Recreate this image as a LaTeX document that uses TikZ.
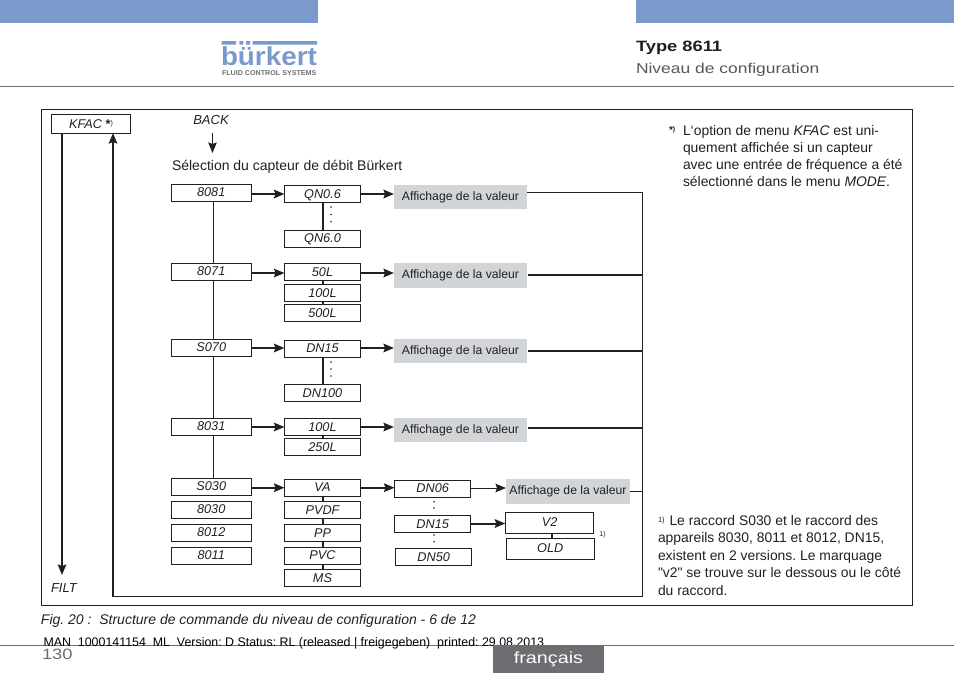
\documentclass[tikz,border=0pt]{standalone}
\usepackage{fontspec}
\setmainfont{Liberation Sans}
\newfontfamily\widefont[FakeStretch=1.22]{Liberation Sans}
\newfontfamily\plainfont{Liberation Sans}
\usetikzlibrary{arrows.meta}
\AtBeginDocument{\frenchspacing}
\definecolor{bkblue}{HTML}{7A9ACB}
\definecolor{bkgray}{HTML}{D2D5D8}
\definecolor{bkdark}{HTML}{6D6E71}
\definecolor{ink}{HTML}{231F20}
\tikzset{
  x=1pt,y=-1pt,
  every node/.style={inner sep=0pt,outer sep=0pt,text=ink},
  menubox/.style={draw=ink,line width=1pt,minimum width=#1,minimum height=17pt,font=\itshape\fontsize{12.7}{14}\selectfont,text depth=0pt,anchor=north west},
  menubox/.default=76pt,
  valbox/.style={fill=bkgray,minimum width=133pt,minimum height=24pt,anchor=north west,font=\fontsize{12.2}{14}\selectfont},
  thinl/.style={draw=ink,line width=1pt},
  thickl/.style={draw=ink,line width=2pt},
  arr/.style={thickl,-{Stealth[length=10.5pt,width=8.5pt,inset=1.5pt]}},
  arrthin/.style={thinl,-{Stealth[length=10.5pt,width=8.5pt,inset=1.5pt]}},
  lab/.style={font=\itshape\fontsize{13}{15}\selectfont},
  body/.style={anchor=base west,font=\fontsize{13.9}{15}\selectfont},
}
\begin{document}
\begin{tikzpicture}
\useasboundingbox (0,0) rectangle (954,673);
% header
\fill[bkblue] (0,0) rectangle (318,23);
\fill[bkblue] (636,0) rectangle (954,23);
\draw[bkdark,line width=1pt] (0,86) -- (954,86);
\fill[bkblue] (221.7,41) rectangle (236,44.5) (239.3,41) rectangle (243.3,44.5) (246,41) rectangle (250,44.5) (252.7,41) rectangle (317,44.5);
\node[anchor=base west,text=bkblue,font=\bfseries\fontsize{26}{28}\selectfont] (logo) at (221,65.5) {\scalebox{1.07}[1]{bürkert}};
\node[anchor=base west,text=bkdark,font=\bfseries\fontsize{7}{8}\selectfont] (logosub) at (222,75.7) {\scalebox{1.02}[1]{FLUID CONTROL SYSTEMS}};
\node[anchor=base west,font=\widefont\bfseries\fontsize{15}{17}\selectfont] (type) at (636,51) {Type 8611};
\node[anchor=base west,text=bkdark!70!ink,font=\widefont\fontsize{14.3}{16}\selectfont] (niv) at (636,73) {Niveau de configuration};
% frame
\draw[thinl] (41.5,109.5) rectangle (912.5,605.5);
% KFAC
\node[menubox=79pt,minimum height=18.5pt] (kfac) at (51.5,114.5) {KFAC {\upshape\bfseries*}\raisebox{3pt}{\upshape\fontsize{7}{8}\selectfont )}};
\coordinate (kfacL) at (62,133);
\coordinate (kfacR) at (113,133);
\coordinate (filtA) at (62,575);
\node[lab,anchor=base west] (filt) at (51,592) {FILT};
\draw[arr] (kfacL) -- (filtA);
\coordinate (loopA) at (113,596.5);
\coordinate (loopB) at (642.5,596.5);
\coordinate (loopC) at (642.5,192.5);
% BACK
\node[lab] (back) at (211,120) {BACK};
\coordinate (backA) at (212.5,133);
\coordinate (backB) at (212.5,153);
\draw[arrthin] (backA) -- (backB);
\node[body,font=\fontsize{14}{15}\selectfont] (sel) at (172,170.7) {Sélection du capteur de débit Bürkert};
% column 1
\foreach \n/\t/\y in {a/8081/184.5,b/8071/263.5,c/S070/339,d/8031/418,e/S030/478.3,f/8030/501.3,g/8012/524,h/8011/547}
  \node[menubox=79.5pt] (\n) at (171.5,\y) {\raisebox{1pt}{\t}};
% column 2
\foreach \n/\t/\y in {qa/QN0.6/185.5,qb/QN6.0/230,ra/50L/263.5,rb/100L/284.5,rc/500L/304.3,sa/DN15/340,sb/DN100/384.3,ta/100L/418.5,tb/250L/438.3,ua/VA/479,ub/PVDF/501.3,uc/PP/524.3,ud/PVC/547,ue/MS/569.7}
  \node[menubox=76pt] (\n) at (284.5,\y) {\t};
% column 3
\foreach \n/\t/\x/\y in {va/DN06/394.5/480,vb/DN15/394.5/515.7,vc/DN50/395.5/548.5}
  \node[menubox=76.3pt] (\n) at (\x,\y) {\t};
\node[menubox=88.5pt,minimum height=21pt] (wa) at (505.3,512.3) {\raisebox{2pt}{V2}};
\node[menubox=88pt,minimum height=20.7pt] (wb) at (506.3,538.3) {\raisebox{2pt}{OLD}};
\node[font=\fontsize{7}{8}\selectfont] (note) at (602.5,535) {1)};
% value boxes
\foreach \n/\y/\h in {pa/185/24,pb/263/25,pc/339/23.7,pd/418/23.7}
  \node[valbox,minimum height=\h pt] (\n) at (394,\y) {Affichage de la valeur};
\node[valbox,minimum width=124pt,minimum height=24.7pt] (pe) at (506,479) {Affichage de la valeur};
% connectors: return lines
\coordinate (pbr) at (528,274.5); \coordinate (pcr) at (528,351); \coordinate (pdr) at (528,428);
\draw[thinl] (pa.east |- loopC) -- (loopC) -- (loopB) -- (loopA);
\draw[thickl] (pbr) -- (pbr -| loopB);
\draw[thickl] (pcr) -- (pcr -| loopB);
\draw[thickl] (pdr) -- (pdr -| loopB);
\draw[thinl] (pe.east |- 0,491) -- (642.5,491);
\draw[arr] (loopA) -- (kfacR);
% trunk
\foreach \p/\q in {a/b,b/c,c/d,d/e}
  \draw[thinl] (\p.south -| 213.5,0) -- (\q.north -| 213.5,0);
% horizontals
\foreach \p/\q/\y in {a/qa/194,b/ra/273,c/sa/348,d/ta/427,e/ua/487.7,ua/va/487.7,vb/wa/523.5}
  \draw[arr] (\p.east |- 0,\y) -- (\q.west |- 0,\y);
\foreach \p/\q/\y in {qa/pa/194,ra/pb/273,sa/pc/348,ta/pd/427}
  \draw[arr] (\p.east |- 0,\y) -- (\q.west |- 0,\y);
\draw[arrthin] (va.east |- 0,488) -- (pe.west |- 0,488);
% verticals
\foreach \p/\q in {qa/qb,sa/sb,ra/rb,rb/rc,ta/tb,ua/ub,ub/uc,uc/ud,ud/ue}
  \draw[thickl] (\p.south) -- (\q.north);
\draw[thickl] (wa.south -| 552,0) -- (wb.north -| 552,0);
% dots
\foreach \x/\y in {331/207,331/214.5,331/221.7,331/362,331/369,331/376,434/501.7,434/508,434/535,434/541.7}
  \fill[ink] (\x,\y) circle (0.8pt);
% text right
\node[anchor=base west,font=\bfseries\fontsize{10}{11}\selectfont] (star) at (669,133.5) {*\raisebox{2pt}{\fontsize{7}{8}\selectfont )}};
\node[body] (t1) at (683,135) {L‘option de menu \textit{KFAC} est uni-};
\node[body] (t2) at (683,152) {quement affichée si un capteur};
\node[body] (t3) at (683,169.5) {avec une entrée de fréquence a été};
\node[body] (t4) at (683,186.7) {sélectionné dans le menu \textit{MODE}.};
\node[anchor=base west,font=\fontsize{7.5}{8}\selectfont] (s1) at (658,522) {1)};
\node[body] (f1) at (669.5,525) {Le raccord S030 et le raccord des};
\node[body] (f2) at (658,542.7) {appareils 8030, 8011 et 8012, DN15,};
\node[body] (f3) at (658,560) {existent en 2 versions. Le marquage};
\node[body] (f4) at (658,577.3) {{\plainfont"}v2{\plainfont"} se trouve sur le dessous ou le côté};
\node[body] (f5) at (658,595) {du raccord.};
% caption
\node[anchor=base west,font=\itshape\fontsize{14}{16}\selectfont] (cap) at (41,624) {Fig. 20 :\ \ Structure de commande du niveau de configuration - 6 de 12};
% footer
\draw[bkdark,line width=1pt] (0,645) -- (954,645);
\node[anchor=base west,text=black,font=\fontsize{12.4}{14}\selectfont] (man) at (43.5,646.5) {MAN\ \ 1000141154\ \ ML\ \ Version: D Status: RL (released | freigegeben)\ \ printed: 29.08.2013};
\node[anchor=base west,text=bkdark,font=\widefont\fontsize{15}{17}\selectfont] (page) at (42,659.5) {130};
\node[fill=bkdark,minimum width=111pt,minimum height=28pt,anchor=north west,text=white,font=\widefont\fontsize{16.2}{18}\selectfont] (lang) at (493,645) {français};
\end{tikzpicture}
\end{document}
